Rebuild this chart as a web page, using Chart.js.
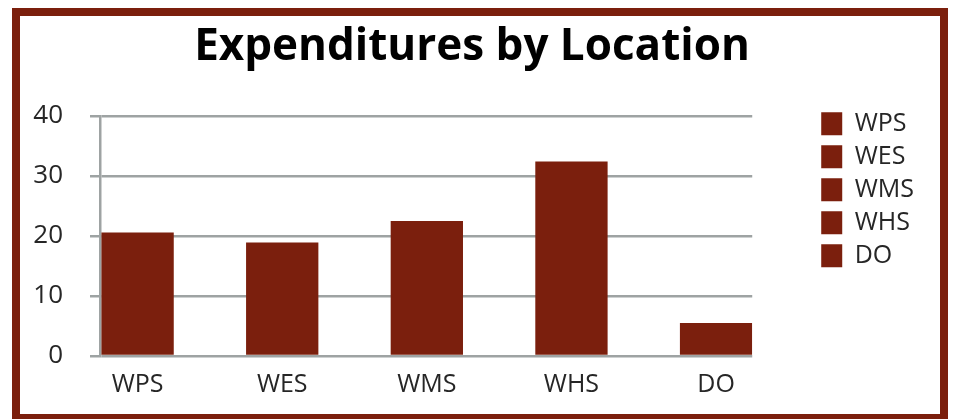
<!DOCTYPE html>
<html>
<head>
<meta charset="utf-8">
<title>Expenditures by Location</title>
<script src="https://cdn.jsdelivr.net/npm/chart.js@4.4.1/dist/chart.umd.min.js"></script>
<style>
  html, body { margin: 0; padding: 0; background: #fff; overflow: hidden; }
  #frame {
    position: absolute;
    left: 12px;
    top: 8px;
    width: 920px;
    height: 398px;
    border: 8px solid #7b1f0d;
    background: #fff;
  }
  canvas { display: block; }
</style>
</head>
<body>
<div id="frame">
  <canvas id="chart" width="920" height="398"></canvas>
</div>
<script>
// Chart data
const categories = ["WPS", "WES", "WMS", "WHS", "DO"];
const expenditures = [20.6, 18.9, 22.5, 32.4, 5.5];
const yMin = 0;
const yMax = 40;
const yStep = 10;

const barColor = "#7b1f0d";
const gridColor = "#9ea3a3";
const textColor = "#262626";
const fontFamily = "'Open Sans', 'Noto Sans', sans-serif";

// bars sit on a linear x axis so the axis can start right at the first bar
const points = expenditures.map((v, i) => ({ x: i, y: v }));

const ctx = document.getElementById("chart").getContext("2d");

new Chart(ctx, {
  type: "bar",
  data: {
    datasets: [
      {
        label: "Expenditures",
        data: points,
        backgroundColor: barColor,
        borderWidth: 0,
        barPercentage: 0.5,
        categoryPercentage: 1,
      },
    ],
  },
  options: {
    responsive: false,
    animation: false,
    events: [],
    layout: {
      padding: { left: 0, right: 16, top: 0, bottom: 0 },
    },
    plugins: {
      title: {
        display: true,
        text: "Expenditures by Location",
        color: "#000",
        font: { family: fontFamily, size: 44, weight: "bold" },
        padding: { top: 4.6, bottom: 42.6 },
      },
      legend: {
        display: true,
        position: "right",
        align: "start",
        // empty legend title, used only to push the items down to the plot top
        title: {
          display: true,
          text: "",
          font: { size: 1 },
          padding: { top: 86, bottom: 0 },
        },
        labels: {
          color: textColor,
          font: { family: fontFamily, size: 25 },
          boxWidth: 21,
          boxHeight: 23,
          padding: 8,
          generateLabels: () =>
            categories.map((name, i) => ({
              text: name,
              fillStyle: barColor,
              strokeStyle: barColor,
              fontColor: textColor,
              lineWidth: 0,
              hidden: false,
              index: i,
              datasetIndex: 0,
            })),
        },
      },
      tooltip: { enabled: false },
    },
    scales: {
      x: {
        type: "linear",
        position: "bottom",
        offset: false,
        min: -0.26,
        max: 4.25,
        grid: { display: false, drawTicks: false },
        border: { display: false },
        ticks: {
          stepSize: 1,
          includeBounds: false,
          autoSkip: false,
          maxRotation: 0,
          padding: 14,
          color: textColor,
          font: { family: fontFamily, size: 25 },
          callback: (value) =>
            Number.isInteger(value) && categories[value] ? categories[value] : "",
        },
      },
      y: {
        min: yMin,
        max: yMax,
        grid: {
          color: gridColor,
          lineWidth: 2.5,
          tickLength: 10,
          drawTicks: true,
        },
        border: { display: true, color: gridColor, width: 2.5 },
        ticks: {
          stepSize: yStep,
          padding: 27,
          color: textColor,
          font: { family: fontFamily, size: 26 },
        },
        afterFit: (scale) => {
          scale.width = 80;
        },
      },
      // empty axis that only keeps a gap between the plot and the legend
      gap: {
        type: "linear",
        position: "right",
        display: true,
        grid: { display: false, drawTicks: false },
        border: { display: false },
        ticks: { display: false },
        afterFit: (scale) => {
          scale.width = 61;
        },
      },
    },
  },
});
</script>
</body>
</html>
